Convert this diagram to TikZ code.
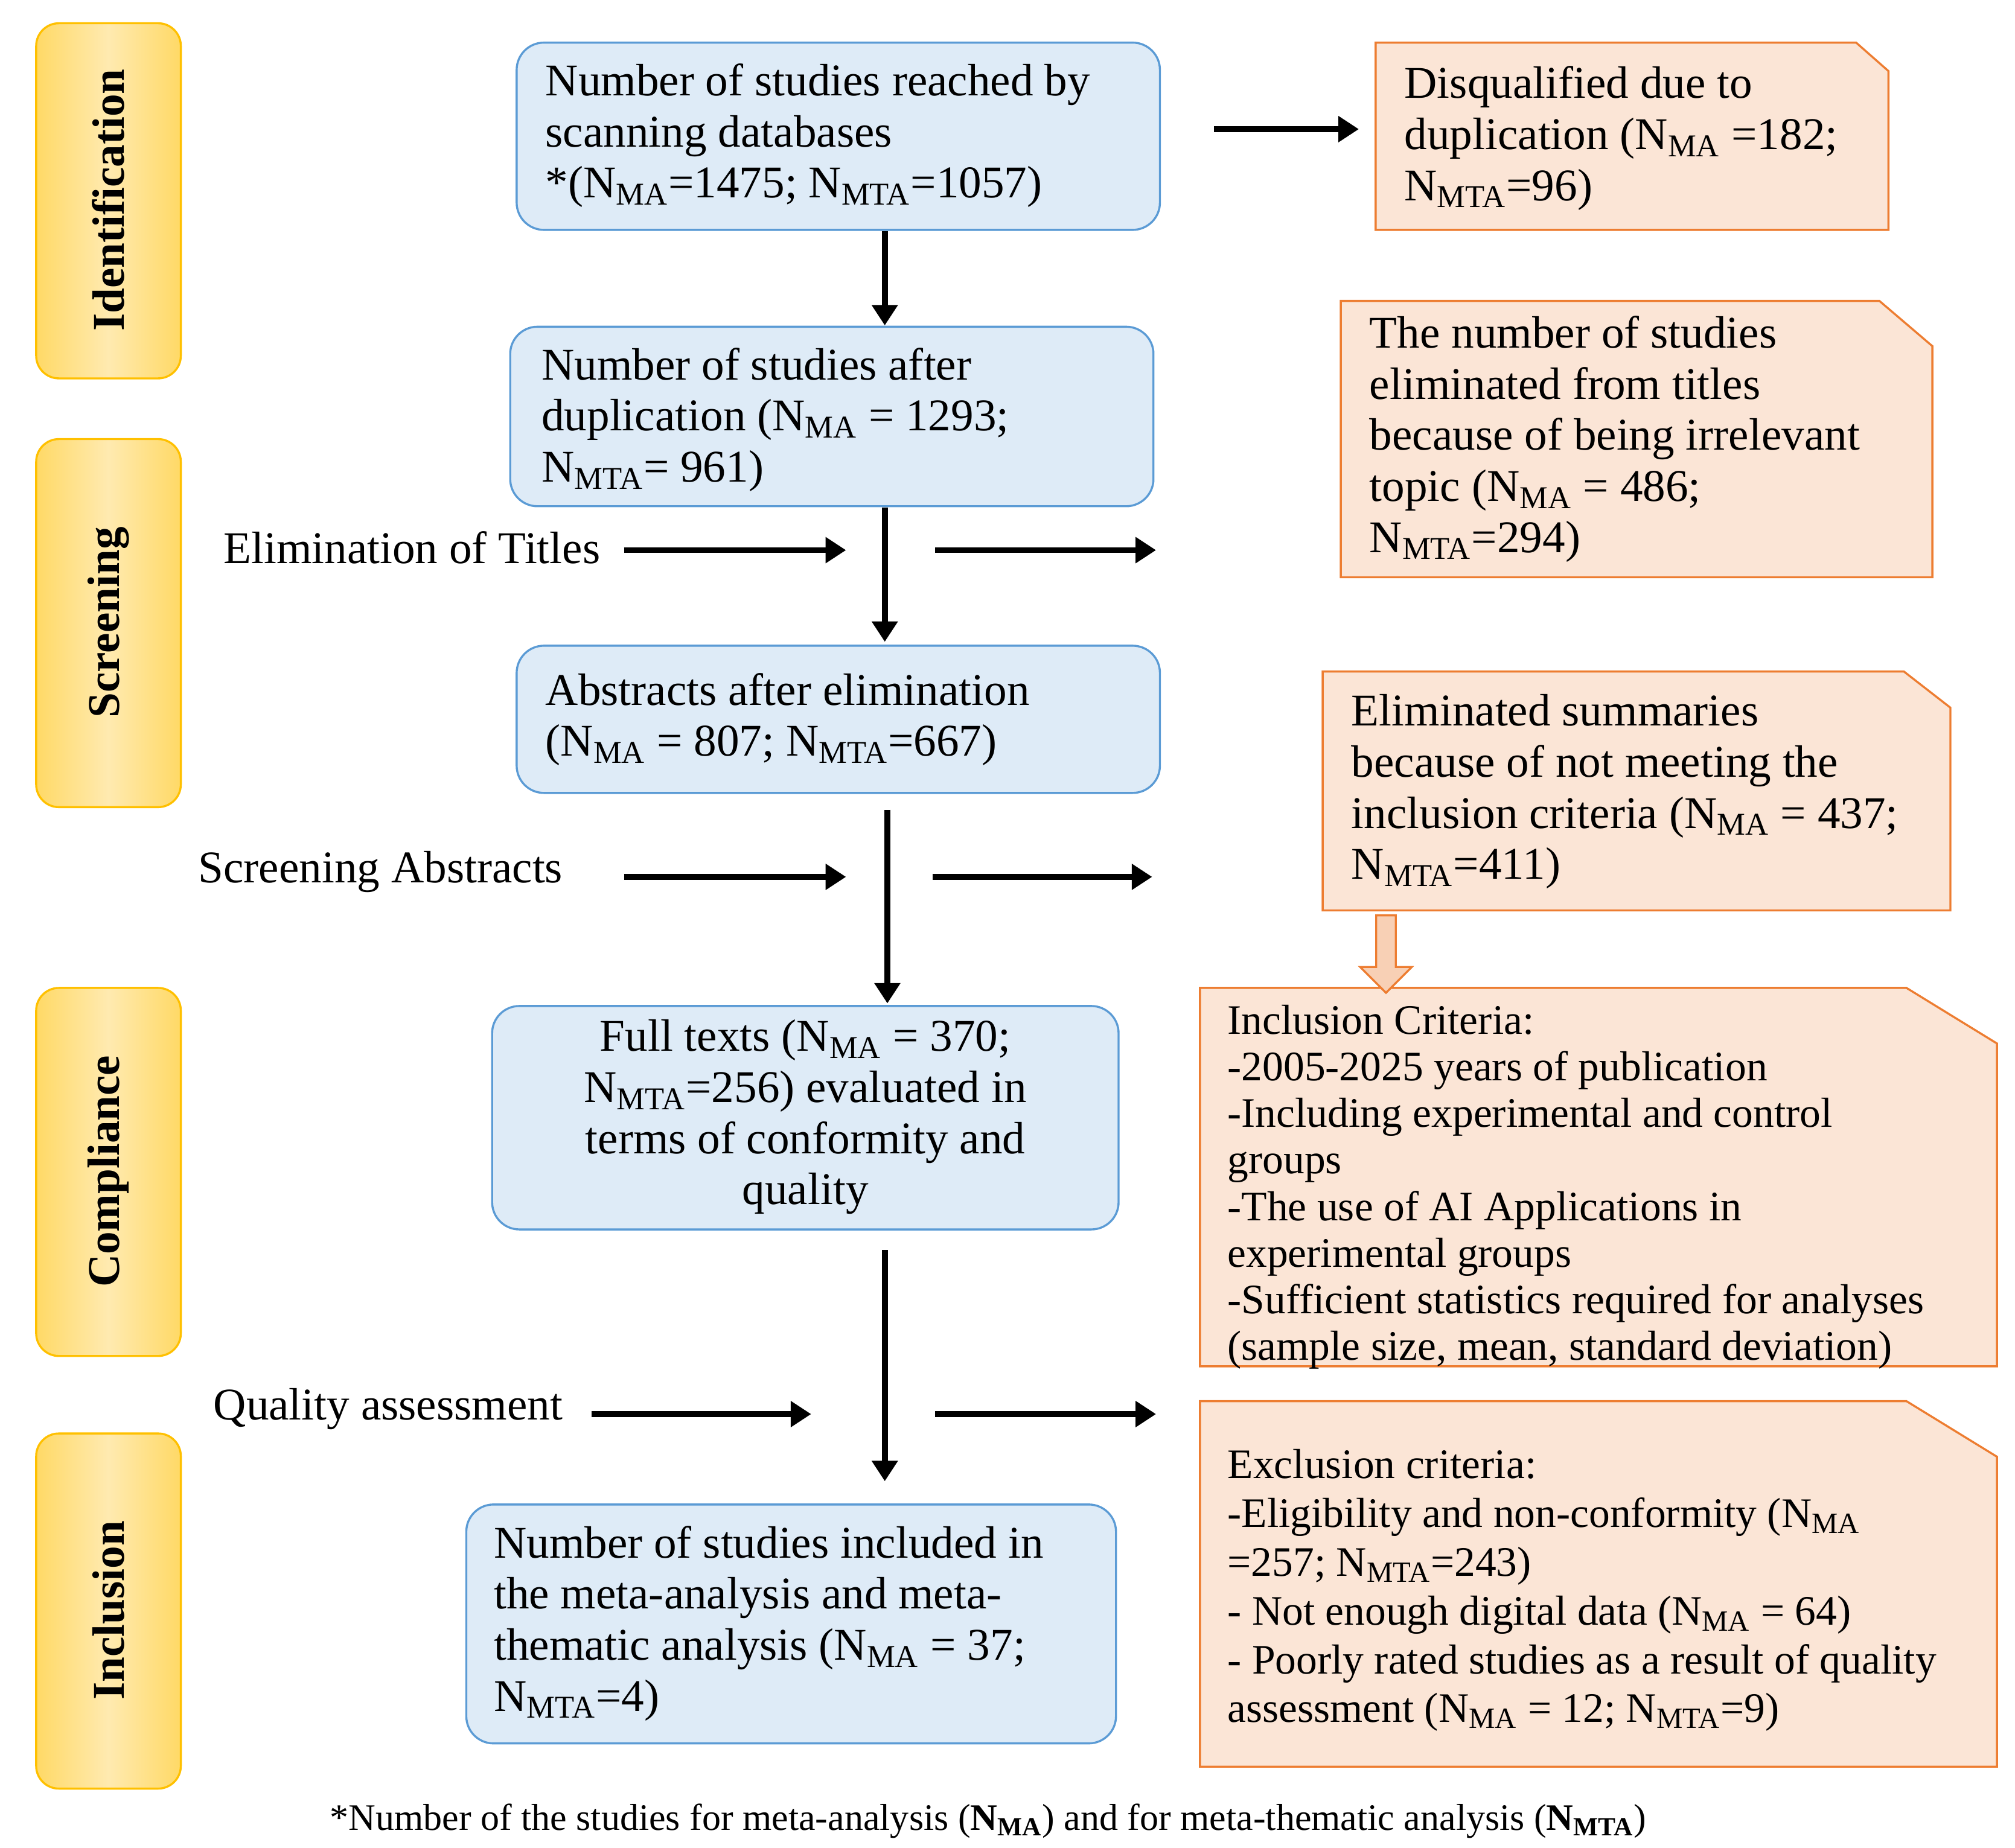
\documentclass[tikz,border=0pt]{standalone}
\usepackage{fontspec}
\setmainfont{Liberation Serif}
\usetikzlibrary{shapes.arrows,arrows.meta}
\newcommand\Ns[1]{N\textsubscript{#1}}
\definecolor{bfill}{HTML}{DEEBF7}\definecolor{bline}{HTML}{5B9BD5}
\definecolor{ofill}{HTML}{FBE5D6}\definecolor{oline}{HTML}{ED7D31}
\definecolor{yfill}{HTML}{FFD966}\definecolor{ylight}{HTML}{FFEAB0}\definecolor{yline}{HTML}{FFC000}
\begin{document}
\begin{tikzpicture}[x=0.02cm,y=-0.02cm,
 txt/.style={font=\fontsize{20}{22.5}\selectfont,inner sep=0pt},
 bbox/.style={draw=bline,fill=bfill,line width=0.9pt,rounded corners=12pt},
 obox/.style={draw=oline,fill=ofill,line width=0.9pt},
 side/.style={draw=yline,line width=0.9pt,rounded corners=10pt,left color=yfill,right color=yfill,middle color=ylight},
 sidet/.style={font=\fontsize{20}{22}\selectfont\bfseries,rotate=90},
 arr/.style={line width=2.6pt,-{Triangle[length=9pt,width=11pt]}}]
\useasboundingbox (0,0) rectangle (1560,1431);
% side labels
\draw[side] (28,18) rectangle (140,293); \node[sidet] (s1) at (84,155) {Identification};
\draw[side] (28,340) rectangle (140,625); \node[sidet] (s2) at (84,482) {Screening};
\draw[side] (28,765) rectangle (140,1050); \node[sidet] (s3) at (84,907) {Compliance};
\draw[side] (28,1110) rectangle (140,1385); \node[sidet] (s4) at (84,1247) {Inclusion};
% blue boxes
\node[bbox,minimum width=498*0.02cm,minimum height=145*0.02cm] (b1) at (649,105.5) {};
\node[txt,align=left,anchor=west] at (422,105) {Number of studies reached by\\scanning databases\\*(\Ns{MA}=1475; \Ns{MTA}=1057)};
\node[bbox,minimum width=498*0.02cm,minimum height=139*0.02cm] (b2) at (644,322.5) {};
\node[txt,align=left,anchor=west] at (419,325) {Number of studies after\\duplication (\Ns{MA} = 1293;\\\Ns{MTA}= 961)};
\node[bbox,minimum width=498*0.02cm,minimum height=114*0.02cm] (b3) at (649,557) {};
\node[txt,align=left,anchor=west] at (422,557) {Abstracts after elimination\\(\Ns{MA} = 807; \Ns{MTA}=667)};
\node[bbox,minimum width=485*0.02cm,minimum height=173*0.02cm] (b4) at (623.5,865.5) {};
\node[txt,align=center] at (623.5,865) {Full texts (\Ns{MA} = 370;\\\Ns{MTA}=256) evaluated in\\terms of conformity and\\quality};
\node[bbox,minimum width=503*0.02cm,minimum height=185*0.02cm] (b5) at (612.5,1257.5) {};
\node[txt,align=left,anchor=west] at (382,1257) {Number of studies included in\\the meta-analysis and meta-\\thematic analysis (\Ns{MA} = 37;\\\Ns{MTA}=4)};
% orange boxes
\draw[obox] (1065,33) -- (1437,33) -- (1462,55) -- (1462,178) -- (1065,178) -- cycle;
\node[txt,align=left,anchor=west] (o1) at (1087,107) {Disqualified due to\\duplication (\Ns{MA} =182;\\\Ns{MTA}=96)};
\draw[obox] (1038,233) -- (1455,233) -- (1496,268) -- (1496,447) -- (1038,447) -- cycle;
\node[txt,align=left,anchor=west] (o2) at (1060,340) {The number of studies\\eliminated from titles\\because of being irrelevant\\topic (\Ns{MA} = 486;\\\Ns{MTA}=294)};
\draw[obox] (1024,520) -- (1474,520) -- (1510,548) -- (1510,705) -- (1024,705) -- cycle;
\node[txt,align=left,anchor=west] (o3) at (1046,613) {Eliminated summaries\\because of not meeting the\\inclusion criteria (\Ns{MA} = 437;\\\Ns{MTA}=411)};
\draw[obox] (929,765) -- (1476,765) -- (1546,808) -- (1546,1058) -- (929,1058) -- cycle;
\node[txt,align=left,anchor=north west,font=\fontsize{18.5}{20.5}\selectfont] (o4) at (950,778) {Inclusion Criteria:\\-2005-2025 years of publication\\-Including experimental and control\\groups\\-The use of AI Applications in\\experimental groups\\-Sufficient statistics required for analyses\\(sample size, mean, standard deviation)};
\draw[obox] (929,1085) -- (1476,1085) -- (1546,1128) -- (1546,1368) -- (929,1368) -- cycle;
\node[txt,align=left,anchor=north west,font=\fontsize{18.5}{21.5}\selectfont] (o5) at (950,1122) {Exclusion criteria:\\-Eligibility and non-conformity (\Ns{MA}\\=257; \Ns{MTA}=243)\\- Not enough digital data (\Ns{MA} = 64)\\- Poorly rated studies as a result of quality\\assessment (\Ns{MA} = 12; \Ns{MTA}=9)};
\node[draw=oline,fill=ofill!80!oline,single arrow,shape border rotate=270,minimum width=40*0.02cm,single arrow head extend=4pt,minimum height=60*0.02cm,inner sep=2pt,line width=0.9pt] (da) at (1073,735) {};
% side texts
\node[txt,anchor=east] (t1) at (465,424) {Elimination of Titles};
\node[txt,anchor=east] (t2) at (436,675) {Screening Abstracts};
\node[txt,anchor=east] (t3) at (436,1091) {Quality assessment};
% arrows
\coordinate (a1) at (685,179); \coordinate (a2) at (685,252);
\draw[arr] (a1) -- (a2);
\coordinate (c1) at (940,100); \coordinate (c2) at (1052,100); \draw[arr] (c1) -- (c2);
\draw[arr] (685,393) -- (685,497);
\draw[arr] (483,426) -- (655,426); \draw[arr] (724,426) -- (895,426);
\draw[arr] (687,627) -- (687,777);
\draw[arr] (483,679) -- (655,679); \draw[arr] (722,679) -- (892,679);
\draw[arr] (685,968) -- (685,1147);
\draw[arr] (458,1095) -- (628,1095); \draw[arr] (724,1095) -- (895,1095);
\node[font=\fontsize{16.5}{18}\selectfont] (fn) at (765,1410) {*Number of the studies for meta-analysis (\textbf{\Ns{MA}}) and for meta-thematic analysis (\textbf{\Ns{MTA}})};
\end{tikzpicture}
\end{document}
